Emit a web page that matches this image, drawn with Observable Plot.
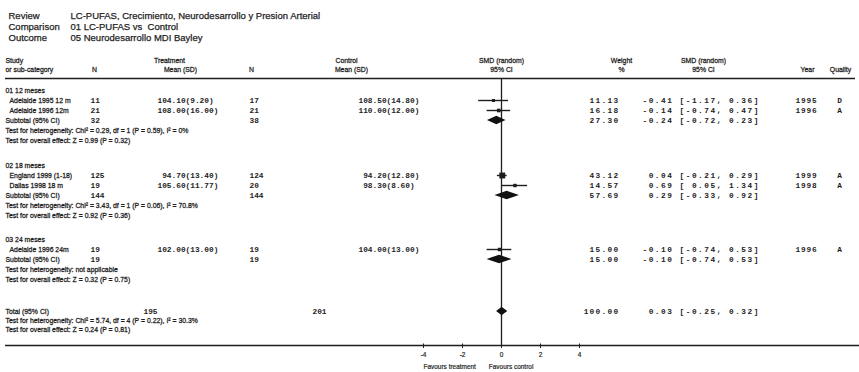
<!DOCTYPE html>
<html><head><meta charset="utf-8">
<script src="https://cdn.jsdelivr.net/npm/d3@7"></script>
<script src="https://cdn.jsdelivr.net/npm/@observablehq/plot@0.6"></script>
<style>
body{margin:0;background:#fff}
svg text{white-space:pre}
</style></head><body><div id="chart"></div>
<script>
// ---------------- data ----------------
const titleKeys = ["Review", "Comparison", "Outcome"];
const titleVals = ["LC-PUFAS, Crecimiento, Neurodesarrollo y Presion Arterial", "01 LC-PUFAS vs  Control", "05 Neurodesarrollo MDI Bayley"];

const groupNames = ["01 12 meses", "02 18 meses", "03 24 meses"];
const studyNames = ["Adelaide 1995 12 m", "Adelaide 1996 12m", "England 1999 (1-18)", "Dallas 1998 18 m", "Adelaide 1996 24m"];
const studyGroup = [0, 0, 1, 1, 2];
const treatN = [11, 21, 125, 19, 19];
const treatMean = [104.10, 108.00, 94.70, 105.60, 102.00];
const treatSD = [9.20, 16.00, 13.40, 11.77, 13.00];
const ctrlN = [17, 21, 124, 20, 19];
const ctrlMean = [108.50, 110.00, 94.20, 98.30, 104.00];
const ctrlSD = [14.80, 12.00, 12.80, 8.60, 13.00];
const weights = [11.13, 16.18, 43.12, 14.57, 15.00];
const smd = [-0.41, -0.14, 0.04, 0.69, -0.10];
const smdLow = [-1.17, -0.74, -0.21, 0.05, -0.74];
const smdHigh = [0.36, 0.47, 0.29, 1.34, 0.53];
const years = [1995, 1996, 1999, 1998, 1996];
const quality = ["D", "A", "A", "A", "A"];

const subTreatN = [32, 144, 19];
const subCtrlN = [38, 144, 19];
const subWeight = [27.30, 57.69, 15.00];
const subSmd = [-0.24, 0.29, -0.10];
const subLow = [-0.72, -0.33, -0.74];
const subHigh = [0.23, 0.92, 0.53];
const hetTexts = [
  "Test for heterogeneity: Chi\u00b2 = 0.29, df = 1 (P = 0.59), I\u00b2 = 0%",
  "Test for heterogeneity: Chi\u00b2 = 3.43, df = 1 (P = 0.06), I\u00b2 = 70.8%",
  "Test for heterogeneity: not applicable"
];
const effTexts = [
  "Test for overall effect: Z = 0.99 (P = 0.32)",
  "Test for overall effect: Z = 0.92 (P = 0.36)",
  "Test for overall effect: Z = 0.32 (P = 0.75)"
];
const totalTreatN = 195, totalCtrlN = 201, totalWeight = 100.00;
const totalSmd = 0.03, totalLow = -0.25, totalHigh = 0.32;
const totalHet = "Test for heterogeneity: Chi\u00b2 = 5.74, df = 4 (P = 0.22), I\u00b2 = 30.3%";
const totalEff = "Test for overall effect: Z = 0.24 (P = 0.81)";

const xTicks = [-4, -2, 0, 2, 4];
const favours = ["Favours treatment", "Favours control"];

// ---------------- layout ----------------
const FONTS = {
  title: {family: "Liberation Sans, Arial, sans-serif", size: 9.5, sx: 1, halo: 0.25},
  body: {family: "Liberation Sans, Arial, sans-serif", size: 8, sx: 0.86, halo: 0.3},
  mono: {family: "Liberation Mono, Courier New, monospace", size: 7.8, weight: "bold"},
  monoW: {family: "Liberation Mono, Courier New, monospace", size: 7.8, weight: "bold", ls: "1.3px"},
  monoCI: {family: "Liberation Mono, Courier New, monospace", size: 7.8, weight: "bold", ls: "1.5px"},
  monoY: {family: "Liberation Mono, Courier New, monospace", size: 7.8, weight: "bold", ls: "0.8px"},
  tick: {family: "Liberation Sans, Arial, sans-serif", size: 7.2, sx: 0.9, halo: 0.2}
};
const COLS = {
  tkey: {x: 8, anchor: "start", font: "title"},
  tval: {x: 70, anchor: "start", font: "title"},
  lab: {x: 5, anchor: "start", font: "body"},
  study: {x: 9, anchor: "start", font: "body"},
  hNT: {x: 94, anchor: "middle", font: "body"},
  hTreat: {x: 169, anchor: "middle", font: "body"},
  hTreatMean: {x: 180, anchor: "middle", font: "body"},
  hNC: {x: 251, anchor: "middle", font: "body"},
  hCtrl: {x: 346, anchor: "middle", font: "body"},
  hCtrlMean: {x: 351, anchor: "middle", font: "body"},
  hSmd: {x: 501, anchor: "middle", font: "body"},
  hW: {x: 621, anchor: "middle", font: "body"},
  hSmd2: {x: 703, anchor: "middle", font: "body"},
  hYear: {x: 807, anchor: "middle", font: "body"},
  hQual: {x: 840, anchor: "middle", font: "body"},
  nT: {x: 90, anchor: "start", font: "mono"},
  meanT: {x: 157, anchor: "start", font: "mono"},
  nC: {x: 249, anchor: "start", font: "mono"},
  meanC: {x: 358, anchor: "start", font: "mono"},
  totNT: {x: 143, anchor: "start", font: "mono"},
  totNC: {x: 312, anchor: "start", font: "mono"},
  w: {x: 619, anchor: "end", font: "monoW"},
  ci: {x: 642, anchor: "start", font: "monoCI"},
  year: {x: 795, anchor: "start", font: "monoY"},
  qual: {x: 839, anchor: "middle", font: "mono"}
};

const pad = (s, n) => String(s).padStart(n, " ");
const meanSd = (m, s) => `${pad(m.toFixed(2), 6)}(${s.toFixed(2)})`;
const ciText = (e, l, h) => `${pad(e.toFixed(2), 5)} [${pad(l.toFixed(2), 5)}, ${h.toFixed(2)}]`;

const lines = [];
const add = (row, col, text) => lines.push({row, col, text: String(text)});
const titleRows = [1.5, 2.6, 3.7];
titleKeys.forEach((k, i) => { add(titleRows[i], "tkey", k); add(titleRows[i], "tval", titleVals[i]); });
const H1 = 6.0, H2 = 6.9, RULE = 7.8;
add(H1, "lab", "Study"); add(H2, "lab", "or sub-category");
add(H2, "hNT", "N"); add(H1, "hTreat", "Treatment"); add(H2, "hTreatMean", "Mean (SD)");
add(H2, "hNC", "N"); add(H1, "hCtrl", "Control"); add(H2, "hCtrlMean", "Mean (SD)");
add(H1, "hSmd", "SMD (random)"); add(H2, "hSmd", "95% CI");
add(H1, "hW", "Weight"); add(H2, "hW", "%");
add(H1, "hSmd2", "SMD (random)"); add(H2, "hSmd2", "95% CI");
add(H2, "hYear", "Year"); add(H2, "hQual", "Quality");

const groupStart = [9.0, 16.5, 23.9];
const studyRows = [], subRows = [];
groupNames.forEach((g, gi) => {
  let r = groupStart[gi];
  add(r, "lab", g);
  studyNames.forEach((s, i) => {
    if (studyGroup[i] !== gi) return;
    r += 1; studyRows[i] = r;
    add(r, "study", s);
    add(r, "nT", treatN[i]); add(r, "meanT", meanSd(treatMean[i], treatSD[i]));
    add(r, "nC", ctrlN[i]); add(r, "meanC", meanSd(ctrlMean[i], ctrlSD[i]));
    add(r, "w", weights[i].toFixed(2)); add(r, "ci", ciText(smd[i], smdLow[i], smdHigh[i]));
    add(r, "year", years[i]); add(r, "qual", quality[i]);
  });
  r += 1; subRows[gi] = r;
  add(r, "lab", "Subtotal (95% CI)");
  add(r, "nT", subTreatN[gi]); add(r, "nC", subCtrlN[gi]);
  add(r, "w", subWeight[gi].toFixed(2)); add(r, "ci", ciText(subSmd[gi], subLow[gi], subHigh[gi]));
  add(r + 1, "lab", hetTexts[gi]);
  add(r + 2, "lab", effTexts[gi]);
});
const TOTAL = 31.1;
add(TOTAL, "lab", "Total (95% CI)");
add(TOTAL, "totNT", totalTreatN); add(TOTAL, "totNC", totalCtrlN);
add(TOTAL, "w", totalWeight.toFixed(2)); add(TOTAL, "ci", ciText(totalSmd, totalLow, totalHigh));
add(TOTAL + 0.9, "lab", totalHet);
add(TOTAL + 1.8, "lab", totalEff);
const AXIS = 34.5, TICKLAB = 35.4, FAV = 36.6;

// ---------------- marks ----------------
const ink = "#1e1e1e";
const studies = studyNames.map((s, i) => ({row: studyRows[i], est: smd[i], lo: smdLow[i], hi: smdHigh[i], w: weights[i]}));
const diamonds = [];
const dh = 0.42;
subSmd.forEach((e, gi) => {
  const r = subRows[gi];
  diamonds.push({id: gi, x: subLow[gi], y1: r, y2: r}, {id: gi, x: e, y1: r - dh, y2: r + dh}, {id: gi, x: subHigh[gi], y1: r, y2: r});
});
diamonds.push({id: 9, x: totalLow, y1: TOTAL, y2: TOTAL}, {id: 9, x: totalSmd, y1: TOTAL - dh, y2: TOTAL + dh}, {id: 9, x: totalHigh, y1: TOTAL, y2: TOTAL});

const textStyle = (f) => ({
  fontFamily: f.family, fontSize: f.size, fontWeight: f.weight || "normal", fill: ink,
  ...(f.halo ? {stroke: ink, strokeWidth: f.halo} : {})
});

const marks = [
  Plot.ruleY([RULE], {y: d => d, insetLeft: 5, insetRight: 4, stroke: ink, strokeWidth: 1.6}),
  Plot.ruleY([AXIS], {y: d => d, insetLeft: 5, stroke: ink, strokeWidth: 1.6}),
  Plot.ruleX([0], {x: d => d, y1: RULE, y2: AXIS, stroke: ink, strokeWidth: 1.3}),
  Plot.ruleX(xTicks, {x: d => d, y1: AXIS - 0.15, y2: AXIS + 0.3, stroke: ink}),
  Plot.ruleY(studies, {y: "row", x1: "lo", x2: "hi", stroke: ink, strokeWidth: 1.4}),
  Plot.dot(studies, {x: "est", y: "row", r: "w", symbol: "square", fill: ink, stroke: "none"}),
  Plot.area(diamonds, {x1: "x", y1: "y1", y2: "y2", z: "id", fill: "#111", curve: "linear"}),
  Plot.text(xTicks, {x: d => d, y: () => TICKLAB, text: d => String(d), ...textStyle(FONTS.tick), ariaDescription: "tick"}),
  Plot.text([favours[0]], {x: () => -4, y: () => FAV, text: d => d, textAnchor: "start", ...textStyle(FONTS.tick), ariaDescription: "tick"}),
  Plot.text([favours[1]], {x: () => -0.65, y: () => FAV, text: d => d, textAnchor: "start", ...textStyle(FONTS.tick), ariaDescription: "tick"})
];
for (const [id, c] of Object.entries(COLS)) {
  const data = lines.filter(l => l.col === id);
  if (!data.length) continue;
  const f = FONTS[c.font];
  marks.push(Plot.text(data, {
    y: "row", text: "text", frameAnchor: "left", dx: c.x, textAnchor: c.anchor,
    ...textStyle(f), ariaDescription: c.font
  }));
}

const plot = Plot.plot({
  width: 859, height: 372,
  marginLeft: 0, marginRight: 0, marginTop: 0, marginBottom: 0,
  x: {domain: [-4, 4], range: [423, 579], axis: null},
  y: {domain: [0, 37.2], range: [0, 372], axis: null},
  r: {type: "sqrt", domain: [0, 45], range: [0, 3.4]},
  style: {background: "#fff"},
  marks
});

// narrow / spaced text styling (horizontal squeeze around each text's anchor)
function restyle(svg, desc, f) {
  svg.querySelectorAll(`g[aria-description="${desc}"]`).forEach(g => {
    if (f.ls) g.style.letterSpacing = f.ls;
    if (f.sx && f.sx !== 1) g.querySelectorAll("text").forEach(t => {
      const tr = t.getAttribute("transform") || "";
      t.setAttribute("transform", tr + ` scale(${f.sx},1)`);
    });
  });
}
for (const [k, f] of Object.entries(FONTS)) restyle(plot, k, f);
document.getElementById("chart").appendChild(plot);
</script></body></html>
